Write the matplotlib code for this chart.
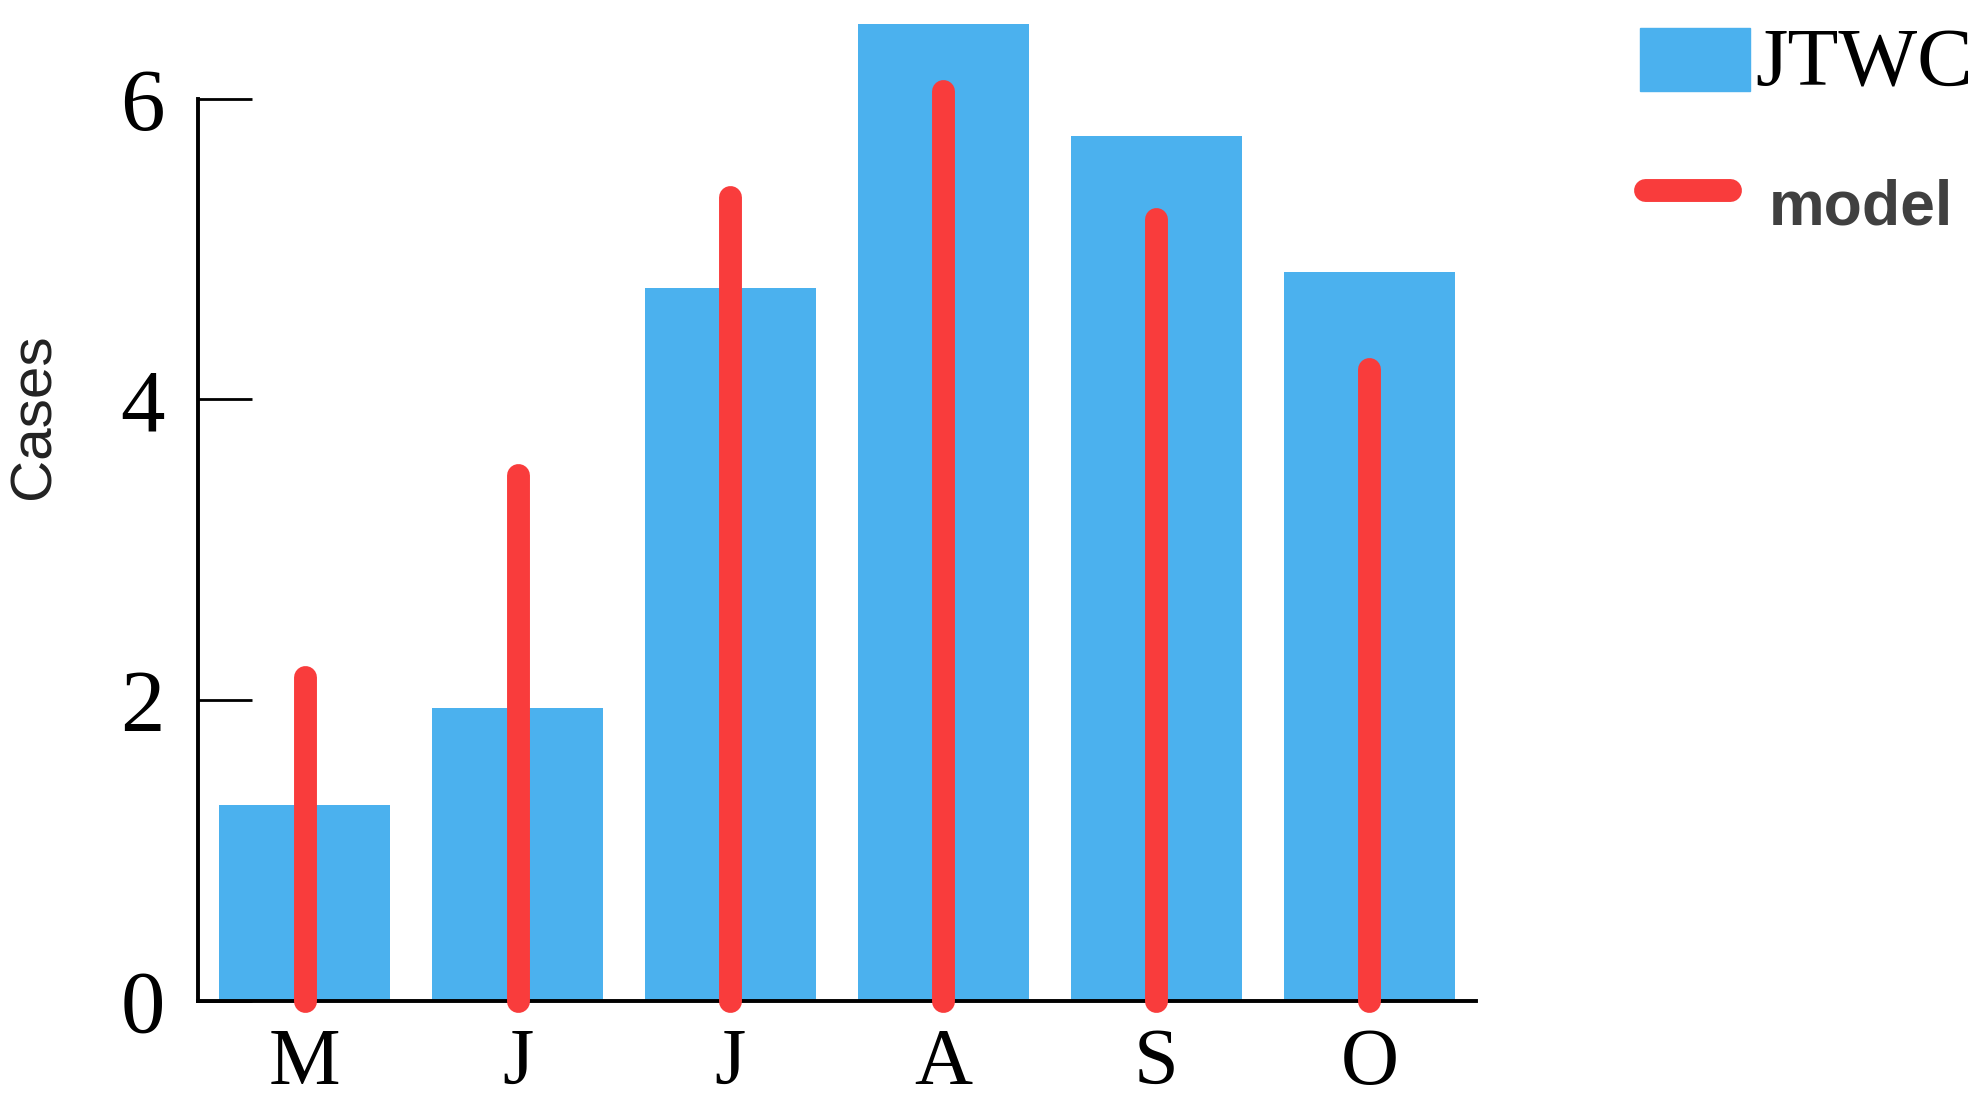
import numpy as np
import matplotlib.pyplot as plt
from matplotlib.patches import Rectangle
from matplotlib.lines import Line2D

months = ['M', 'J', 'J', 'A', 'S', 'O']
jtwc_cases = [1.30, 1.95, 4.74, 6.50, 5.75, 4.85]
model_cases = [2.15, 3.50, 5.35, 6.05, 5.20, 4.20]
y_ticks = [0, 2, 4, 6]

_BLUE = '#4bb1ee'
_RED = '#f93c3c'
_SERIF = 'Liberation Serif'


def main():
    fig = plt.figure(figsize=(19.81, 11.12), dpi=100)
    ax = fig.add_axes([0.1, 0.1002, 0.645, 0.892])

    x = np.arange(len(months))
    ax.bar(x, jtwc_cases, width=0.8, color=_BLUE, zorder=2)
    lines = ax.vlines(x, 0, model_cases, colors=_RED, linewidth=16.5,
                      zorder=4, clip_on=False)
    lines.set_capstyle('round')

    ax.set_xlim(-0.5, 5.5)
    ax.set_ylim(0, 6.6)
    ax.set_xticks(x)
    ax.set_xticklabels(months, fontfamily=_SERIF, fontsize=58)
    ax.set_yticks(y_ticks)
    ax.set_yticklabels([str(t) for t in y_ticks], fontfamily=_SERIF, fontsize=64)
    ax.tick_params(axis='x', length=0, pad=20)
    ax.tick_params(axis='y', direction='in', length=39, width=2.0, pad=24)

    for s in ['top', 'right']:
        ax.spines[s].set_visible(False)
    ax.spines['left'].set_bounds(0, 6)
    for s in ['left', 'bottom']:
        ax.spines[s].set_linewidth(2.8)

    ax.set_ylabel('Cases', fontsize=42, fontfamily='Liberation Sans',
                  color='#222222')
    ax.yaxis.label.set_rotation_mode('default')
    ax.yaxis.label.set_va('center')
    ax.yaxis.set_label_coords(-0.128, 0.589)

    # legend drawn by hand, to sit where the original one does
    fig.add_artist(Rectangle((0.828, 0.918), 0.0555, 0.0567,
                             transform=fig.transFigure, color=_BLUE))
    fig.text(0.886, 0.923, 'JTWC', fontfamily=_SERIF, fontsize=60,
             va='baseline', ha='left')
    fig.add_artist(Line2D([0.8305, 0.8735], [0.829, 0.829],
                          transform=fig.transFigure, color=_RED,
                          linewidth=16.5, solid_capstyle='round'))
    fig.text(0.893, 0.798, 'model', fontfamily='Liberation Sans',
             fontweight='bold', fontsize=45, color='#404040',
             va='baseline', ha='left')

    plt.savefig('out.png', dpi=100)


if __name__ == '__main__':
    main()
